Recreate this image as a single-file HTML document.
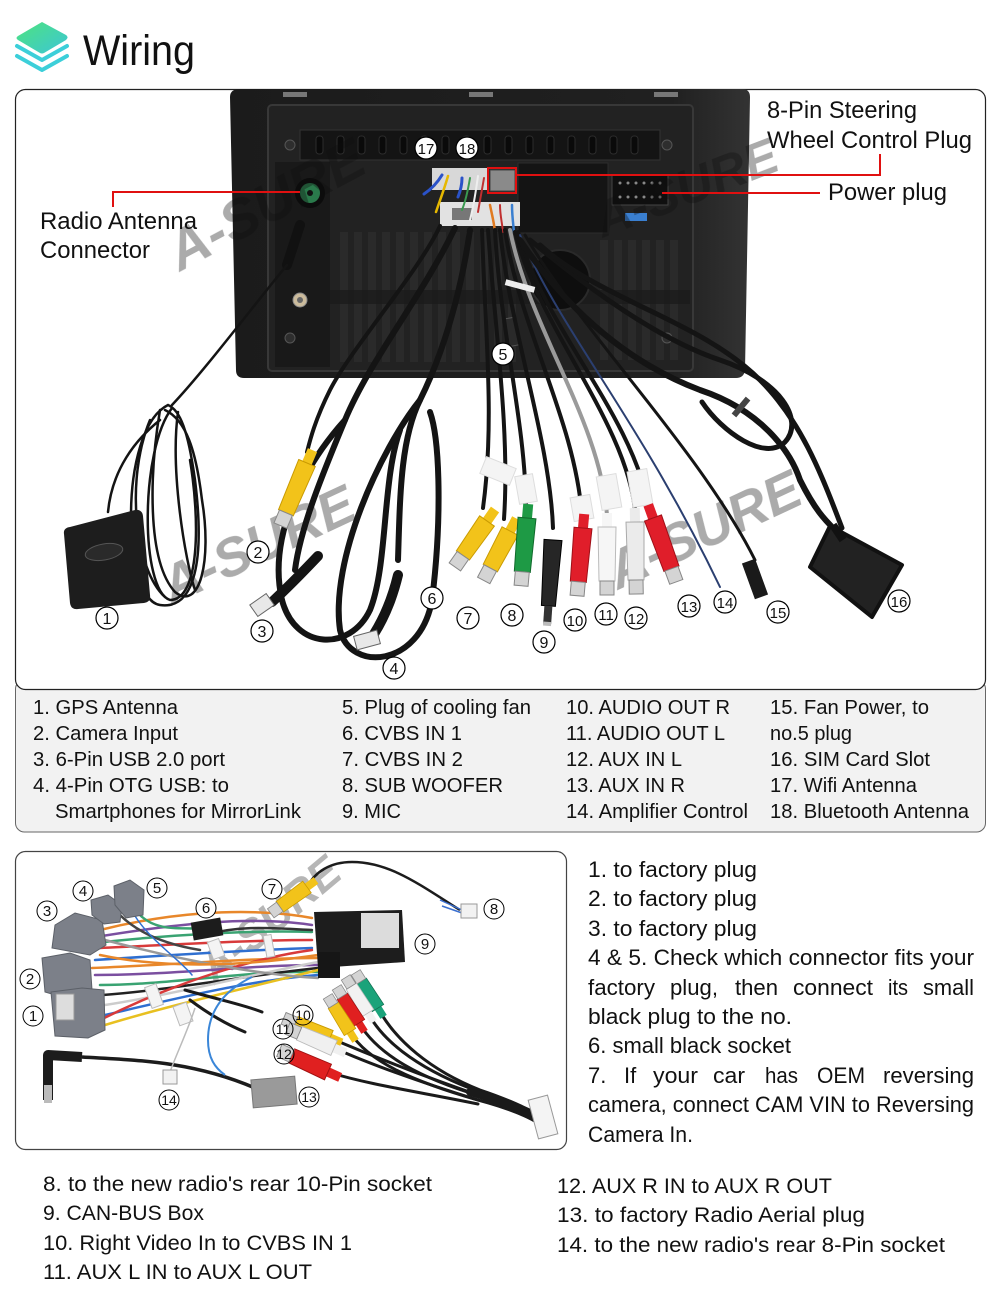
<!DOCTYPE html>
<html><head><meta charset="utf-8"><style>
html,body{margin:0;padding:0;background:#fff;}
svg{display:block;}
text{font-family:"Liberation Sans",Arial,sans-serif;fill:#111;}
</style></head><body>
<svg width="1000" height="1308" viewBox="0 0 1000 1308" xmlns="http://www.w3.org/2000/svg">
<defs>
<linearGradient id="ig" x1="0" y1="0" x2="1" y2="1"><stop offset="0" stop-color="#4ee37e"/><stop offset="1" stop-color="#3cc6d6"/></linearGradient>
<linearGradient id="dev" x1="0" y1="0" x2="1" y2="0"><stop offset="0" stop-color="#1b1b1b"/><stop offset="0.85" stop-color="#202020"/><stop offset="1" stop-color="#333"/></linearGradient>
</defs>

<!-- header -->
<path d="M42,22 L66,35 Q69,37 66,40 L44,53 Q42,54 40,53 L18,40 Q15,38 18,36 Z" fill="url(#ig)"/>
<path d="M17,46 L42,60 L67,46" fill="none" stroke="#3ccfd9" stroke-width="4" stroke-linecap="round" stroke-linejoin="round"/>
<path d="M17,56 L42,70 L67,56" fill="none" stroke="#3ccfd9" stroke-width="4" stroke-linecap="round" stroke-linejoin="round"/>
<text x="83" y="65" font-size="43" textLength="112" lengthAdjust="spacingAndGlyphs">Wiring</text>

<!-- legend box & top box -->
<rect x="15.5" y="680" width="970" height="152" rx="9" fill="#f2f2f2" stroke="#666" stroke-width="1"/>
<rect x="15.5" y="89.5" width="970" height="600" rx="10" fill="#fff" stroke="#222" stroke-width="1.2"/>

<!-- DEVICE -->
<path d="M240,89 L742,89 Q750,89 750,97 L745,370 Q744,378 736,378 L244,378 Q236,378 236,370 L230,97 Q230,89 240,89 Z" fill="url(#dev)"/>
<rect x="283" y="92" width="24" height="5" fill="#777"/>
<rect x="469" y="92" width="24" height="5" fill="#777"/>
<rect x="654" y="92" width="24" height="5" fill="#777"/>
<rect x="268" y="105" width="425" height="266" rx="4" fill="#222" stroke="#383838" stroke-width="2"/>
<rect x="300" y="130" width="360" height="30" fill="#141414" stroke="#333"/>
<g fill="#0a0a0a" stroke="#2c2c2c">
<rect x="316" y="136" width="7" height="18" rx="3"/><rect x="337" y="136" width="7" height="18" rx="3"/><rect x="358" y="136" width="7" height="18" rx="3"/><rect x="379" y="136" width="7" height="18" rx="3"/><rect x="400" y="136" width="7" height="18" rx="3"/><rect x="421" y="136" width="7" height="18" rx="3"/><rect x="442" y="136" width="7" height="18" rx="3"/><rect x="463" y="136" width="7" height="18" rx="3"/><rect x="484" y="136" width="7" height="18" rx="3"/><rect x="505" y="136" width="7" height="18" rx="3"/><rect x="526" y="136" width="7" height="18" rx="3"/><rect x="547" y="136" width="7" height="18" rx="3"/><rect x="568" y="136" width="7" height="18" rx="3"/><rect x="589" y="136" width="7" height="18" rx="3"/><rect x="610" y="136" width="7" height="18" rx="3"/><rect x="631" y="136" width="7" height="18" rx="3"/>
</g>
<rect x="275" y="162" width="55" height="205" fill="#191919"/>
<g fill="#2a2a2a">
<rect x="340" y="232" width="8" height="130"/><rect x="354" y="232" width="8" height="130"/><rect x="368" y="232" width="8" height="130"/><rect x="382" y="232" width="8" height="130"/><rect x="396" y="232" width="8" height="130"/><rect x="410" y="232" width="8" height="130"/><rect x="424" y="232" width="8" height="130"/><rect x="438" y="232" width="8" height="130"/><rect x="452" y="232" width="8" height="130"/><rect x="466" y="232" width="8" height="130"/><rect x="480" y="232" width="8" height="130"/><rect x="494" y="232" width="8" height="130"/><rect x="508" y="232" width="8" height="130"/><rect x="600" y="240" width="8" height="120"/><rect x="614" y="240" width="8" height="120"/><rect x="628" y="240" width="8" height="120"/><rect x="642" y="240" width="8" height="120"/><rect x="656" y="240" width="8" height="120"/><rect x="670" y="240" width="8" height="120"/>
</g>
<rect x="330" y="290" width="360" height="14" fill="#1a1a1a" opacity="0.7"/>
<g fill="#2e2e2e" stroke="#555"><circle cx="290" cy="145" r="5"/><circle cx="667" cy="145" r="5"/><circle cx="290" cy="338" r="5"/><circle cx="667" cy="338" r="5"/></g>
<circle cx="310" cy="193" r="15" fill="#0c0c0c"/>
<circle cx="310" cy="193" r="10" fill="#2a7a4b"/>
<circle cx="310" cy="193" r="3" fill="#111"/>
<circle cx="300" cy="300" r="7" fill="#cbbb9c" stroke="#888"/>
<circle cx="300" cy="300" r="3" fill="#666"/>
<rect x="518" y="163" width="90" height="70" fill="#141414" stroke="#2c2c2c"/>
<rect x="612" y="175" width="56" height="30" fill="#0f0f0f" stroke="#444"/>
<g fill="#888"><circle cx="620" cy="183" r="1.5"/><circle cx="628" cy="183" r="1.5"/><circle cx="636" cy="183" r="1.5"/><circle cx="644" cy="183" r="1.5"/><circle cx="652" cy="183" r="1.5"/><circle cx="660" cy="183" r="1.5"/><circle cx="620" cy="197" r="1.5"/><circle cx="628" cy="197" r="1.5"/><circle cx="636" cy="197" r="1.5"/><circle cx="644" cy="197" r="1.5"/><circle cx="652" cy="197" r="1.5"/><circle cx="660" cy="197" r="1.5"/></g>
<rect x="625" y="213" width="22" height="8" fill="#3a7fd0"/>
<circle cx="560" cy="280" r="30" fill="#0e0e0e" stroke="#2a2a2a" stroke-width="2"/>
<!-- connector block -->
<rect x="432" y="168" width="56" height="22" fill="#d8d8d8"/>
<rect x="440" y="202" width="80" height="24" fill="#e2e2e2"/>
<rect x="452" y="208" width="20" height="12" fill="#777"/>
<rect x="490" y="170" width="25" height="21" fill="#8a8a8a" stroke="#444"/>
<rect x="488" y="168" width="28" height="25" fill="none" stroke="#e01010" stroke-width="2"/>
<g fill="none" stroke-linecap="round">
<path d="M442,175 C436,185 430,190 424,194" stroke="#2a52c8" stroke-width="3"/>
<path d="M448,176 C444,190 440,200 436,212" stroke="#e6b800" stroke-width="2.5"/>
<path d="M462,178 C462,186 460,192 458,197" stroke="#2a52c8" stroke-width="3"/>
<path d="M470,178 C468,190 466,200 462,210" stroke="#3a9a50" stroke-width="2"/>
<path d="M478,176 C476,190 474,205 470,220" stroke="#eee" stroke-width="2"/>
<path d="M484,178 C482,190 480,200 478,212" stroke="#c03030" stroke-width="2"/>
<path d="M490,205 C492,215 494,222 495,232" stroke="#e07a20" stroke-width="2.5"/>
<path d="M500,205 C500,215 502,222 503,232" stroke="#c03030" stroke-width="2"/>
<path d="M512,205 C512,215 513,222 514,232" stroke="#3a7fd0" stroke-width="2.5"/>
</g>
<rect x="505" y="318" width="12" height="28" fill="#2a2a2a" stroke="#555" transform="rotate(-10 511 332)"/>

<!-- watermarks -->
<g font-style="italic" font-weight="bold" fill="#c4c4c4" opacity="0.35">
<text x="180" y="272" font-size="56" transform="rotate(-28 180 272)">A-SURE</text>
<text x="603" y="238" font-size="50" transform="rotate(-21 603 238)">A-SURE</text>
<text x="172" y="605" font-size="54" transform="rotate(-25 172 605)">A-SURE</text>
<text x="618" y="590" font-size="54" transform="rotate(-25 618 590)">A-SURE</text>
</g>

<!-- CABLES top -->
<g fill="none" stroke="#141414" stroke-linecap="round">
<!-- GPS -->
<path d="M300,225 L287,265" stroke="#111" stroke-width="10"/>
<path d="M287,265 C250,310 205,370 172,405" stroke-width="2.5"/>
<path d="M108,512 C112,470 135,440 160,420" stroke-width="2.5"/>
<path d="M168,405 C118,430 122,600 160,605 C195,610 205,560 195,480 C188,430 180,410 168,405" stroke-width="2.5"/>
<path d="M172,408 C140,450 140,590 170,600 C200,600 200,520 190,460" stroke-width="2.5"/>
<path d="M160,410 C150,470 146,560 175,592 C200,612 212,560 202,500 C196,450 186,420 165,410" stroke-width="2.5"/>
<path d="M150,420 C125,480 135,570 165,597" stroke-width="2.5"/>
<path d="M178,412 C170,470 185,560 195,590" stroke-width="2.5"/>
<!-- camera -->
<path d="M440,226 C420,270 350,350 330,390 C315,420 310,440 307,452" stroke-width="4"/>
<!-- USB cables -->
<path d="M455,228 C420,300 370,360 345,420 C320,480 300,530 295,570" stroke-width="6"/>
<path d="M345,420 C300,470 268,540 282,600 C295,650 350,652 370,610 C388,565 382,480 400,430" stroke-width="6"/>
<path d="M318,556 C300,575 285,590 272,602" stroke-width="10"/>
<path d="M470,230 C460,300 440,360 420,400 C400,440 400,500 398,560" stroke-width="6"/>
<path d="M420,400 C380,450 330,560 340,630 C350,672 420,668 432,600 C442,520 440,440 430,412" stroke-width="6"/>
<path d="M398,575 C392,600 384,618 374,634" stroke-width="10"/>
<!-- middle bundle -->
<path d="M482,230 C485,330 495,420 483,508" stroke-width="4"/>
<path d="M488,230 C495,330 510,430 504,519" stroke-width="4"/>
<path d="M495,230 C500,330 525,420 526,506" stroke-width="4"/>
<path d="M500,230 C510,330 550,440 553,528" stroke-width="4"/>
<path d="M505,230 C520,330 575,420 582,516" stroke-width="4"/>
<path d="M510,230 C530,330 600,420 607,515" stroke="#9a9a9a" stroke-width="4"/>
<path d="M515,232 C540,330 625,420 635,510" stroke-width="4"/>
<path d="M518,232 C545,330 630,410 649,507" stroke-width="4"/>
<path d="M520,235 C560,330 640,420 720,587" stroke="#2b3f70" stroke-width="2"/>
<path d="M525,235 C580,330 700,450 755,560" stroke-width="3"/>
<!-- right big loops -->
<path d="M520,240 C560,300 620,360 700,390 C760,410 790,450 800,480 C815,510 825,520 835,530" stroke-width="6"/>
<path d="M530,240 C590,290 660,340 720,360 C780,380 805,420 785,442 C765,462 722,432 702,402" stroke-width="5"/>
<path d="M540,245 C600,300 700,320 760,380 C800,420 820,470 842,528" stroke-width="5"/>
</g>
<rect x="505" y="283" width="30" height="6" fill="#eee" transform="rotate(15 520 286)"/>
<rect x="738" y="396" width="6" height="22" fill="#444" transform="rotate(40 741 407)"/>

<!-- GPS block -->
<path d="M70,527 L135,510 Q142,509 143,516 L150,595 Q151,602 144,603 L78,609 Q71,610 70,603 L64,534 Q63,528 70,527 Z" fill="#1d1d1d"/>
<ellipse cx="104" cy="552" rx="19" ry="8" fill="#2a2a2a" stroke="#555" transform="rotate(-10 104 552)"/>
<!-- USB plugs -->
<rect x="252" y="598" width="20" height="14" fill="#e8e8e8" stroke="#666" transform="rotate(-35 262 605)"/>
<rect x="355" y="633" width="24" height="14" fill="#e8e8e8" stroke="#666" transform="rotate(-15 367 640)"/>

<!-- labels tags -->
<g fill="#f4f4f4" stroke="#ddd">
<rect x="482" y="462" width="32" height="18" transform="rotate(22 498 471)"/>
<rect x="512" y="480" width="28" height="18" transform="rotate(80 526 489)"/>
<rect x="570" y="498" width="24" height="20" transform="rotate(80 582 508)"/>
<rect x="592" y="482" width="34" height="20" transform="rotate(80 609 492)"/>
<rect x="622" y="478" width="36" height="20" transform="rotate(80 640 488)"/>
</g>

<!-- RCA plugs top -->
<g>
<g transform="translate(487,521) rotate(35)"><rect x="-5" y="-14" width="10" height="14" fill="#f2c31a"/><path d="M-9,0 L9,0 L8,42 L-8,42 Z" fill="#f2c31a" stroke="#c99a00"/><rect x="-7" y="42" width="14" height="14" fill="#d4d4d4" stroke="#888"/></g>
<g transform="translate(510,531) rotate(28)"><rect x="-5" y="-14" width="10" height="14" fill="#f2c31a"/><path d="M-9,0 L9,0 L8,42 L-8,42 Z" fill="#f2c31a" stroke="#c99a00"/><rect x="-7" y="42" width="14" height="14" fill="#d4d4d4" stroke="#888"/></g>
<g transform="translate(527,518) rotate(5)"><rect x="-5" y="-14" width="10" height="14" fill="#1e9a45"/><path d="M-9,0 L9,0 L8,54 L-8,54 Z" fill="#1e9a45" stroke="#116a2c"/><rect x="-7" y="54" width="14" height="14" fill="#d4d4d4" stroke="#888"/></g>
<g transform="translate(553,540) rotate(4)"><path d="M-9,0 L9,0 L7,66 L-7,66 Z" fill="#262626" stroke="#000"/><rect x="-4" y="66" width="8" height="18" fill="#333"/><rect x="-4" y="82" width="8" height="4" fill="#bbb"/></g>
<g transform="translate(583,528) rotate(5)"><rect x="-5" y="-14" width="10" height="14" fill="#e01e2a"/><path d="M-9,0 L9,0 L8,54 L-8,54 Z" fill="#e01e2a" stroke="#a01018"/><rect x="-7" y="54" width="14" height="14" fill="#d4d4d4" stroke="#888"/></g>
<g transform="translate(607,527) rotate(0)"><rect x="-5" y="-14" width="10" height="14" fill="#f6f6f6"/><path d="M-9,0 L9,0 L8,54 L-8,54 Z" fill="#f6f6f6" stroke="#bbb"/><rect x="-7" y="54" width="14" height="14" fill="#d4d4d4" stroke="#888"/></g>
<g transform="translate(635,522) rotate(-1)"><rect x="-5" y="-14" width="10" height="14" fill="#ebebeb"/><path d="M-9,0 L9,0 L8,58 L-8,58 Z" fill="#ebebeb" stroke="#aaa"/><rect x="-7" y="58" width="14" height="14" fill="#d4d4d4" stroke="#888"/></g>
<g transform="translate(653,518) rotate(-20)"><rect x="-5" y="-14" width="10" height="14" fill="#e01e2a"/><path d="M-9,0 L9,0 L8,54 L-8,54 Z" fill="#e01e2a" stroke="#a01018"/><rect x="-7" y="54" width="14" height="14" fill="#d4d4d4" stroke="#888"/></g>
<g transform="translate(307,463) rotate(23)"><rect x="-5" y="-14" width="10" height="14" fill="#f2c31a"/><path d="M-9,0 L9,0 L8,54 L-8,54 Z" fill="#f2c31a" stroke="#c99a00"/><rect x="-7" y="54" width="14" height="14" fill="#d4d4d4" stroke="#888"/></g>
</g>
<!-- fan power plug 15 -->
<rect x="748" y="560" width="14" height="38" fill="#1a1a1a" transform="rotate(-20 755 579)"/>
<!-- SIM box 16 -->
<path d="M830,526 L902,565 L872,617 L810,567 Z" fill="#222" stroke="#111" stroke-linejoin="round" stroke-width="4"/>
<line x1="843" y1="540" x2="833" y2="525" stroke="#111" stroke-width="8"/>

<!-- circled numbers top -->
<g font-size="16" text-anchor="middle">
<g transform="translate(426,148)"><circle r="11" fill="#fff" stroke="#000" stroke-width="1.2"/><text y="6" font-size="15">17</text></g>
<g transform="translate(467,148)"><circle r="11" fill="#fff" stroke="#000" stroke-width="1.2"/><text y="6" font-size="15">18</text></g>
<g transform="translate(503,354)"><circle r="11" fill="#fff" stroke="#000" stroke-width="1.2"/><text y="6">5</text></g>
<g transform="translate(107,618)"><circle r="11" fill="#fff" stroke="#000" stroke-width="1.2"/><text y="6">1</text></g>
<g transform="translate(258,552)"><circle r="11" fill="#fff" stroke="#000" stroke-width="1.2"/><text y="6">2</text></g>
<g transform="translate(262,631)"><circle r="11" fill="#fff" stroke="#000" stroke-width="1.2"/><text y="6">3</text></g>
<g transform="translate(394,668)"><circle r="11" fill="#fff" stroke="#000" stroke-width="1.2"/><text y="6">4</text></g>
<g transform="translate(432,598)"><circle r="11" fill="#fff" stroke="#000" stroke-width="1.2"/><text y="6">6</text></g>
<g transform="translate(468,618)"><circle r="11" fill="#fff" stroke="#000" stroke-width="1.2"/><text y="6">7</text></g>
<g transform="translate(512,615)"><circle r="11" fill="#fff" stroke="#000" stroke-width="1.2"/><text y="6">8</text></g>
<g transform="translate(544,642)"><circle r="11" fill="#fff" stroke="#000" stroke-width="1.2"/><text y="6">9</text></g>
<g transform="translate(575,620)"><circle r="11" fill="#fff" stroke="#000" stroke-width="1.2"/><text y="6" font-size="15">10</text></g>
<g transform="translate(606,614)"><circle r="11" fill="#fff" stroke="#000" stroke-width="1.2"/><text y="6" font-size="15">11</text></g>
<g transform="translate(636,618)"><circle r="11" fill="#fff" stroke="#000" stroke-width="1.2"/><text y="6" font-size="15">12</text></g>
<g transform="translate(689,606)"><circle r="11" fill="#fff" stroke="#000" stroke-width="1.2"/><text y="6" font-size="15">13</text></g>
<g transform="translate(725,602)"><circle r="11" fill="#fff" stroke="#000" stroke-width="1.2"/><text y="6" font-size="15">14</text></g>
<g transform="translate(778,612)"><circle r="11" fill="#fff" stroke="#000" stroke-width="1.2"/><text y="6" font-size="15">15</text></g>
<g transform="translate(899,601)"><circle r="11" fill="#fff" stroke="#000" stroke-width="1.2"/><text y="6" font-size="15">16</text></g>
</g>

<!-- callouts -->
<path d="M113,207 L113,192 L300,192" fill="none" stroke="#e01010" stroke-width="2"/>
<path d="M516,175 L880,175 L880,154" fill="none" stroke="#e01010" stroke-width="2"/>
<path d="M662,193 L820,193" fill="none" stroke="#e01010" stroke-width="2"/>
<g font-size="24">
<text x="40" y="229" textLength="157" lengthAdjust="spacingAndGlyphs">Radio Antenna</text>
<text x="40" y="258" textLength="110" lengthAdjust="spacingAndGlyphs">Connector</text>
<text x="767" y="118" textLength="150" lengthAdjust="spacingAndGlyphs">8-Pin Steering</text>
<text x="767" y="148" textLength="205" lengthAdjust="spacingAndGlyphs">Wheel Control Plug</text>
<text x="828" y="200" textLength="119" lengthAdjust="spacingAndGlyphs">Power plug</text>
</g>

<!-- legend -->
<g font-size="20">
<text x="33" y="714" textLength="145" lengthAdjust="spacingAndGlyphs">1. GPS Antenna</text>
<text x="33" y="740" textLength="145" lengthAdjust="spacingAndGlyphs">2. Camera Input</text>
<text x="33" y="766" textLength="192" lengthAdjust="spacingAndGlyphs">3. 6-Pin USB 2.0 port</text>
<text x="33" y="792" textLength="196" lengthAdjust="spacingAndGlyphs">4. 4-Pin OTG USB: to</text>
<text x="55" y="818" textLength="246" lengthAdjust="spacingAndGlyphs">Smartphones for MirrorLink</text>
<text x="342" y="714" textLength="189" lengthAdjust="spacingAndGlyphs">5. Plug of cooling fan</text>
<text x="342" y="740" textLength="120" lengthAdjust="spacingAndGlyphs">6. CVBS IN 1</text>
<text x="342" y="766" textLength="121" lengthAdjust="spacingAndGlyphs">7. CVBS IN 2</text>
<text x="342" y="792" textLength="161" lengthAdjust="spacingAndGlyphs">8. SUB WOOFER</text>
<text x="342" y="818" textLength="59" lengthAdjust="spacingAndGlyphs">9. MIC</text>
<text x="566" y="714" textLength="164" lengthAdjust="spacingAndGlyphs">10. AUDIO OUT R</text>
<text x="566" y="740" textLength="159" lengthAdjust="spacingAndGlyphs">11. AUDIO OUT L</text>
<text x="566" y="766" textLength="116" lengthAdjust="spacingAndGlyphs">12. AUX IN L</text>
<text x="566" y="792" textLength="119" lengthAdjust="spacingAndGlyphs">13. AUX IN R</text>
<text x="566" y="818" textLength="182" lengthAdjust="spacingAndGlyphs">14. Amplifier Control</text>
<text x="770" y="714" textLength="159" lengthAdjust="spacingAndGlyphs">15. Fan Power, to</text>
<text x="770" y="740" textLength="82" lengthAdjust="spacingAndGlyphs">no.5 plug</text>
<text x="770" y="766" textLength="160" lengthAdjust="spacingAndGlyphs">16. SIM Card Slot</text>
<text x="770" y="792" textLength="147" lengthAdjust="spacingAndGlyphs">17. Wifi Antenna</text>
<text x="770" y="818" textLength="199" lengthAdjust="spacingAndGlyphs">18. Bluetooth Antenna</text>
</g>

<!-- LOWER HARNESS BOX -->
<rect x="15.5" y="851.5" width="551" height="298" rx="10" fill="#fff" stroke="#444" stroke-width="1.2"/>
<text x="215" y="985" font-size="44" font-style="italic" font-weight="bold" fill="#c8c8c8" opacity="0.3" transform="rotate(-40 215 985)">A-SURE</text>
<!-- wire bundle -->
<g fill="none" stroke-width="2.5" stroke-linecap="round">
<path d="M100,930 C160,915 240,905 312,918" stroke="#e8872a"/>
<path d="M102,936 C170,925 250,915 312,925" stroke="#7b4fa0"/>
<path d="M104,942 C170,935 250,930 312,932" stroke="#3aa372"/>
<path d="M100,948 C170,945 250,940 312,940" stroke="#d83a3a"/>
<path d="M95,960 C170,955 250,950 312,948" stroke="#2f6fd0"/>
<path d="M92,968 C170,965 250,958 318,958" stroke="#e8872a"/>
<path d="M95,975 C170,975 250,965 318,965" stroke="#7b4fa0"/>
<path d="M100,985 C170,985 250,970 318,972" stroke="#3aa372"/>
<path d="M103,995 C170,990 250,975 318,968" stroke="#222"/>
<path d="M105,1005 C170,995 250,975 318,962" stroke="#ccc"/>
<path d="M105,1015 C170,1000 250,980 318,975" stroke="#2f6fd0"/>
<path d="M105,1025 C170,1005 260,985 318,970" stroke="#e8c020"/>
<path d="M100,1020 C160,990 240,960 312,950" stroke="#d83a3a"/>
<path d="M105,940 C180,960 260,975 318,978" stroke="#999"/>
<path d="M100,955 C170,970 250,965 318,955" stroke="#e8872a"/>
<path d="M120,915 C140,935 170,945 200,950" stroke="#444"/>
<path d="M140,915 C160,935 190,925 205,930" stroke="#3aa372"/>
<path d="M135,916 C150,940 180,960 192,975" stroke="#2f6fd0" stroke-width="1.5"/>
<path d="M205,935 C240,925 270,928 312,930" stroke="#333"/>
</g>
<g fill="#f4f4f4" stroke="#bbb"><rect x="148" y="985" width="12" height="22" transform="rotate(-20 154 996)"/><rect x="210" y="940" width="12" height="18" transform="rotate(-20 216 949)"/><rect x="176" y="1004" width="14" height="20" transform="rotate(-20 183 1014)"/><rect x="265" y="935" width="8" height="22" transform="rotate(-10 269 946)"/></g>
<!-- gray connectors -->
<g fill="#7c8089" stroke="#5c6068">
<path d="M55,925 L75,913 L102,920 L106,945 L90,955 L52,948 Z"/>
<path d="M42,958 L70,953 L90,960 L92,990 L62,997 L45,992 Z"/>
<path d="M51,992 L82,988 L104,990 L105,1030 L88,1038 L55,1036 Z"/>
<path d="M91,900 L108,895 L122,905 L120,922 L104,924 L92,915 Z"/>
<path d="M114,886 L130,880 L144,890 L143,915 L126,918 L115,905 Z"/>
</g>
<rect x="56" y="994" width="18" height="26" fill="#ddd" stroke="#999"/>
<!-- small black socket 6 -->
<rect x="192" y="920" width="30" height="18" fill="#1c1c1c" transform="rotate(-10 207 929)"/>
<!-- cable to 8 -->
<path d="M307,887 C315,872 330,862 352,862 C390,862 420,885 460,910" fill="none" stroke="#1c1c1c" stroke-width="2.5"/>
<path d="M440,900 L462,910 M442,906 L462,913" stroke="#3a6fd0" stroke-width="1.5" fill="none"/>
<rect x="461" y="904" width="16" height="14" fill="#f2f2f2" stroke="#999"/>
<!-- CAN box 9 -->
<path d="M314,912 L402,910 L405,962 L318,968 Z" fill="#1d1d1d"/>
<rect x="361" y="913" width="38" height="35" fill="#dcdcdc"/>
<rect x="318" y="952" width="22" height="26" fill="#161616"/>
<!-- RCA back cables -->
<g fill="none" stroke="#1a1a1a" stroke-width="3" stroke-linecap="round">
<path d="M378,1008 C395,1040 430,1070 480,1090 C510,1100 525,1108 538,1114"/>
<path d="M368,1013 C385,1045 425,1072 480,1092 C510,1102 525,1110 538,1117"/>
<path d="M359,1023 C378,1055 420,1078 480,1096 C510,1105 525,1112 538,1120"/>
<path d="M350,1032 C368,1062 415,1082 478,1100 C508,1108 525,1115 538,1123"/>
<path d="M330,1038 C370,1055 420,1075 478,1095"/>
<path d="M334,1048 C372,1065 420,1082 478,1100"/>
<path d="M328,1072 C370,1085 420,1092 478,1104"/>
<path d="M185,990 C220,1000 245,1005 262,1012"/>
<path d="M190,1000 C210,1015 228,1025 245,1032"/>
<path d="M470,1092 C500,1100 520,1110 540,1120" stroke-width="8"/>
</g>
<rect x="533" y="1097" width="20" height="40" fill="#f4f4f4" stroke="#999" transform="rotate(-15 543 1117)"/>
<!-- antenna & 13 -->
<path d="M48,1100 L48,1055 L82,1057" fill="none" stroke="#1c1c1c" stroke-width="10" stroke-linejoin="round"/>
<rect x="44" y="1085" width="8" height="18" fill="#bbb"/>
<path d="M82,1057 C130,1060 190,1060 255,1088" fill="none" stroke="#1c1c1c" stroke-width="3.5"/>
<rect x="252" y="1078" width="44" height="28" fill="#9a9a9a" stroke="#777" transform="rotate(-5 274 1092)"/>
<path d="M195,1008 C188,1030 176,1055 170,1072" fill="none" stroke="#bbb" stroke-width="1.5"/>
<rect x="163" y="1070" width="14" height="14" fill="#f2f2f2" stroke="#999"/>
<path d="M252,977 C225,990 208,1010 208,1040 C208,1058 215,1068 225,1075" fill="none" stroke="#3a86d8" stroke-width="2"/>
<!-- lower RCAs -->
<g transform="translate(307,887) rotate(54) scale(0.8)"><rect x="-5" y="-14" width="10" height="14" fill="#f2c31a"/><path d="M-9,0 L9,0 L8,42 L-8,42 Z" fill="#f2c31a" stroke="#c99a00"/><rect x="-7" y="42" width="14" height="14" fill="#d4d4d4" stroke="#888"/></g>
<g transform="translate(378,1008) rotate(148) scale(0.75)"><rect x="-5" y="-14" width="10" height="14" fill="#1aa37a"/><path d="M-9,0 L9,0 L8,42 L-8,42 Z" fill="#1aa37a" stroke="#0f7050"/><rect x="-7" y="42" width="14" height="14" fill="#d4d4d4" stroke="#888"/></g>
<g transform="translate(368,1013) rotate(148) scale(0.75)"><rect x="-5" y="-14" width="10" height="14" fill="#f2f2f2"/><path d="M-9,0 L9,0 L8,42 L-8,42 Z" fill="#f2f2f2" stroke="#bbb"/><rect x="-7" y="42" width="14" height="14" fill="#d4d4d4" stroke="#888"/></g>
<g transform="translate(359,1023) rotate(148) scale(0.75)"><rect x="-5" y="-14" width="10" height="14" fill="#e02020"/><path d="M-9,0 L9,0 L8,42 L-8,42 Z" fill="#e02020" stroke="#a01010"/><rect x="-7" y="42" width="14" height="14" fill="#d4d4d4" stroke="#888"/></g>
<g transform="translate(350,1032) rotate(148) scale(0.75)"><rect x="-5" y="-14" width="10" height="14" fill="#f2c31a"/><path d="M-9,0 L9,0 L8,42 L-8,42 Z" fill="#f2c31a" stroke="#c99a00"/><rect x="-7" y="42" width="14" height="14" fill="#d4d4d4" stroke="#888"/></g>
<g transform="translate(330,1038) rotate(113) scale(0.9)"><rect x="-5" y="-14" width="10" height="14" fill="#f2c31a"/><path d="M-9,0 L9,0 L8,42 L-8,42 Z" fill="#f2c31a" stroke="#c99a00"/><rect x="-7" y="42" width="14" height="14" fill="#d4d4d4" stroke="#888"/></g>
<g transform="translate(334,1048) rotate(113) scale(0.9)"><rect x="-5" y="-14" width="10" height="14" fill="#f0f0f0"/><path d="M-9,0 L9,0 L8,42 L-8,42 Z" fill="#f0f0f0" stroke="#bbb"/><rect x="-7" y="42" width="14" height="14" fill="#d4d4d4" stroke="#888"/></g>
<g transform="translate(328,1072) rotate(114) scale(0.95)"><rect x="-5" y="-14" width="10" height="14" fill="#e02020"/><path d="M-9,0 L9,0 L8,42 L-8,42 Z" fill="#e02020" stroke="#a01010"/><rect x="-7" y="42" width="14" height="14" fill="#d4d4d4" stroke="#888"/></g>
<!-- lower labels -->
<g font-size="15" text-anchor="middle">
<g transform="translate(33,1016)"><circle r="10" fill="#fff" stroke="#000"/><text y="5">1</text></g>
<g transform="translate(30,979)"><circle r="10" fill="#fff" stroke="#000"/><text y="5">2</text></g>
<g transform="translate(47,911)"><circle r="10" fill="#fff" stroke="#000"/><text y="5">3</text></g>
<g transform="translate(83,891)"><circle r="10" fill="#fff" stroke="#000"/><text y="5">4</text></g>
<g transform="translate(157,888)"><circle r="10" fill="#fff" stroke="#000"/><text y="5">5</text></g>
<g transform="translate(206,908)"><circle r="10" fill="#fff" stroke="#000"/><text y="5">6</text></g>
<g transform="translate(272,889)"><circle r="10" fill="#fff" stroke="#000"/><text y="5">7</text></g>
<g transform="translate(494,909)"><circle r="10" fill="#fff" stroke="#000"/><text y="5">8</text></g>
<g transform="translate(425,944)"><circle r="10" fill="#fff" stroke="#000"/><text y="5">9</text></g>
<g transform="translate(303,1015)"><circle r="10" fill="none" stroke="#000"/><text y="5" font-size="14">10</text></g>
<g transform="translate(283,1029)"><circle r="10" fill="none" stroke="#000"/><text y="5" font-size="14">11</text></g>
<g transform="translate(284,1054)"><circle r="10" fill="none" stroke="#000"/><text y="5" font-size="14">12</text></g>
<g transform="translate(309,1097)"><circle r="10" fill="#fff" stroke="#000"/><text y="5" font-size="14">13</text></g>
<g transform="translate(169,1100)"><circle r="10" fill="#fff" stroke="#000"/><text y="5" font-size="14">14</text></g>
</g>

<!-- right text -->
<g font-size="22">
<text x="588" y="877" textLength="169" lengthAdjust="spacingAndGlyphs">1. to factory plug</text>
<text x="588" y="906" textLength="169" lengthAdjust="spacingAndGlyphs">2. to factory plug</text>
<text x="588" y="936" textLength="169" lengthAdjust="spacingAndGlyphs">3. to factory plug</text>
<text x="588" y="965" textLength="386" lengthAdjust="spacingAndGlyphs">4 &amp; 5. Check which connector fits your</text>
<text x="588" y="995" textLength="67" lengthAdjust="spacingAndGlyphs">factory</text>
<text x="670" y="995" textLength="48" lengthAdjust="spacingAndGlyphs">plug,</text>
<text x="735" y="995" textLength="43" lengthAdjust="spacingAndGlyphs">then</text>
<text x="793" y="995" textLength="80" lengthAdjust="spacingAndGlyphs">connect</text>
<text x="888" y="995" textLength="20" lengthAdjust="spacingAndGlyphs">its</text>
<text x="923" y="995" textLength="51" lengthAdjust="spacingAndGlyphs">small</text>
<text x="588" y="1024" textLength="204" lengthAdjust="spacingAndGlyphs">black plug to the no.</text>
<text x="588" y="1053" textLength="203" lengthAdjust="spacingAndGlyphs">6. small black socket</text>
<text x="588" y="1083">7.</text>
<text x="624" y="1083">If</text>
<text x="653" y="1083" textLength="45" lengthAdjust="spacingAndGlyphs">your</text>
<text x="713" y="1083" textLength="32" lengthAdjust="spacingAndGlyphs">car</text>
<text x="765" y="1083" textLength="33" lengthAdjust="spacingAndGlyphs">has</text>
<text x="817" y="1083" textLength="48" lengthAdjust="spacingAndGlyphs">OEM</text>
<text x="883" y="1083" textLength="91" lengthAdjust="spacingAndGlyphs">reversing</text>
<text x="588" y="1112" textLength="386" lengthAdjust="spacingAndGlyphs">camera, connect CAM VIN to Reversing</text>
<text x="588" y="1142" textLength="105" lengthAdjust="spacingAndGlyphs">Camera In.</text>
</g>

<!-- bottom text -->
<g font-size="21">
<text x="43" y="1191" textLength="389" lengthAdjust="spacingAndGlyphs">8. to the new radio's rear 10-Pin socket</text>
<text x="43" y="1220" textLength="161" lengthAdjust="spacingAndGlyphs">9. CAN-BUS Box</text>
<text x="43" y="1250" textLength="309" lengthAdjust="spacingAndGlyphs">10. Right Video In to CVBS IN 1</text>
<text x="43" y="1279" textLength="269" lengthAdjust="spacingAndGlyphs">11. AUX L IN to AUX L OUT</text>
<text x="557" y="1193" textLength="275" lengthAdjust="spacingAndGlyphs">12. AUX R IN to AUX R OUT</text>
<text x="557" y="1222" textLength="308" lengthAdjust="spacingAndGlyphs">13. to factory Radio Aerial plug</text>
<text x="557" y="1252" textLength="388" lengthAdjust="spacingAndGlyphs">14. to the new radio's rear 8-Pin socket</text>
</g>
</svg>
</body></html>
